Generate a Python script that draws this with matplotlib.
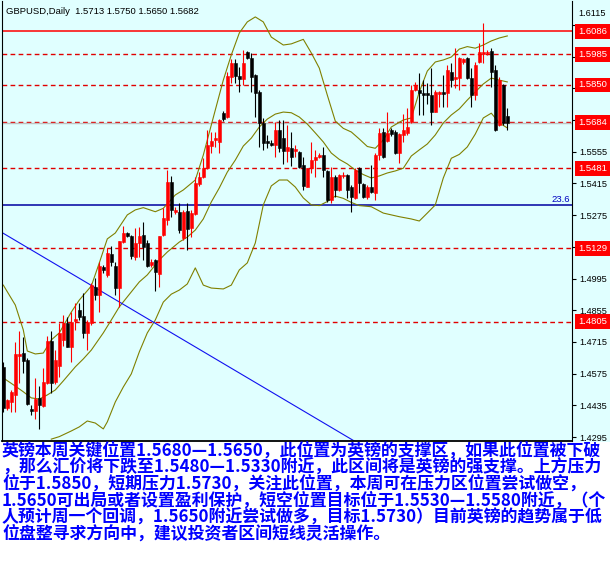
import matplotlib
matplotlib.use("Agg")
import matplotlib.pyplot as plt
import matplotlib.transforms as mtransforms
from matplotlib.patches import Rectangle
import numpy as np

# GBPUSD daily candles, oldest first
opens = [1.4606, 1.4422, 1.4451, 1.4481, 1.4655, 1.4668, 1.4635, 1.4419, 1.4412, 1.4467,
         1.4434, 1.4535, 1.4721, 1.4538, 1.4609, 1.4724, 1.4797, 1.4694, 1.4808, 1.4856,
         1.4830, 1.4753, 1.4797, 1.4956, 1.4922, 1.5047, 1.5011, 1.5103, 1.5052, 1.4952,
         1.5158, 1.5195, 1.5183, 1.5091, 1.5153, 1.5187, 1.5153, 1.5055, 1.5077, 1.5015,
         1.5187, 1.5254, 1.5420, 1.5289, 1.5290, 1.5173, 1.5294, 1.5217, 1.5280, 1.5412,
         1.5445, 1.5482, 1.5580, 1.5607, 1.5599, 1.5727, 1.5710, 1.5886, 1.5948, 1.5889,
         1.5875, 1.5994, 1.5967, 1.5894, 1.5820, 1.5680, 1.5602, 1.5595, 1.5585, 1.5651,
         1.5614, 1.5559, 1.5570, 1.5559, 1.5555, 1.5496, 1.5400, 1.5482, 1.5518, 1.5532,
         1.5540, 1.5470, 1.5342, 1.5445, 1.5386, 1.5448, 1.5452, 1.5399, 1.5349, 1.5482,
         1.5412, 1.5354, 1.5400, 1.5371, 1.5540, 1.5641, 1.5602, 1.5651, 1.5643, 1.5548,
         1.5629, 1.5636, 1.5687, 1.5827, 1.5827, 1.5813, 1.5813, 1.5805, 1.5732, 1.5810,
         1.5817, 1.5813, 1.5908, 1.5876, 1.5879, 1.5950, 1.5967, 1.5879, 1.5805, 1.5950,
         1.5986, 1.5989, 1.5999, 1.5915, 1.5673, 1.5849, 1.5713]
highs = [1.4627, 1.4465, 1.4503, 1.4716, 1.4763, 1.4738, 1.4644, 1.4437, 1.4555, 1.4521,
         1.4599, 1.4742, 1.4763, 1.4679, 1.4797, 1.4834, 1.4826, 1.4848, 1.4887, 1.4886,
         1.4930, 1.4812, 1.4975, 1.4996, 1.5069, 1.5055, 1.5128, 1.5139, 1.5068, 1.5161,
         1.5227, 1.5200, 1.5187, 1.5218, 1.5224, 1.5246, 1.5165, 1.5081, 1.5081, 1.5183,
         1.5307, 1.5474, 1.5449, 1.5311, 1.5330, 1.5298, 1.5330, 1.5298, 1.5445, 1.5467,
         1.5526, 1.5651, 1.5643, 1.5643, 1.5699, 1.5735, 1.5908, 1.5963, 1.5963, 1.5930,
         1.6004, 1.5999, 1.5989, 1.5898, 1.5827, 1.5702, 1.5629, 1.5607, 1.5687, 1.5695,
         1.5695, 1.5673, 1.5643, 1.5585, 1.5560, 1.5533, 1.5483, 1.5599, 1.5563, 1.5549,
         1.5577, 1.5474, 1.5489, 1.5452, 1.5457, 1.5465, 1.5457, 1.5408, 1.5482, 1.5487,
         1.5417, 1.5408, 1.5496, 1.5549, 1.5658, 1.5658, 1.5732, 1.5660, 1.5651, 1.5638,
         1.5720, 1.5747, 1.5849, 1.5864, 1.5901, 1.5872, 1.5858, 1.5923, 1.5827, 1.5825,
         1.5894, 1.5938, 1.5948, 1.6014, 1.5974, 1.5969, 1.5973, 1.5923, 1.5952, 1.6034,
         1.6121, 1.6004, 1.6011, 1.5938, 1.5883, 1.5854, 1.5750]
lows = [1.4406, 1.4415, 1.4407, 1.4407, 1.4534, 1.4577, 1.4437, 1.4393, 1.4375, 1.4332,
        1.4430, 1.4530, 1.4491, 1.4529, 1.4562, 1.4697, 1.4693, 1.4628, 1.4768, 1.4812,
        1.4731, 1.4679, 1.4790, 1.4900, 1.4849, 1.5018, 1.5002, 1.5051, 1.4922, 1.4871,
        1.5152, 1.5178, 1.5081, 1.5077, 1.5091, 1.5077, 1.5046, 1.5046, 1.4941, 1.4959,
        1.5183, 1.5231, 1.5268, 1.5280, 1.5195, 1.5165, 1.5121, 1.5180, 1.5276, 1.5404,
        1.5439, 1.5479, 1.5548, 1.5577, 1.5548, 1.5691, 1.5704, 1.5857, 1.5857, 1.5820,
        1.5849, 1.5964, 1.5820, 1.5710, 1.5577, 1.5563, 1.5570, 1.5580, 1.5533, 1.5555,
        1.5501, 1.5511, 1.5492, 1.5533, 1.5482, 1.5386, 1.5397, 1.5460, 1.5445, 1.5525,
        1.5445, 1.5334, 1.5327, 1.5356, 1.5381, 1.5439, 1.5351, 1.5290, 1.5346, 1.5371,
        1.5349, 1.5346, 1.5373, 1.5342, 1.5518, 1.5529, 1.5598, 1.5624, 1.5545, 1.5504,
        1.5599, 1.5629, 1.5682, 1.5823, 1.5717, 1.5717, 1.5766, 1.5673, 1.5730, 1.5754,
        1.5754, 1.5754, 1.5842, 1.5835, 1.5827, 1.5942, 1.5876, 1.5754, 1.5783, 1.5947,
        1.5945, 1.5982, 1.5842, 1.5646, 1.5668, 1.5673, 1.5650]
closes = [1.4422, 1.4459, 1.4495, 1.4662, 1.4662, 1.4632, 1.4441, 1.4410, 1.4462, 1.4437,
          1.4538, 1.4721, 1.4535, 1.4635, 1.4753, 1.4799, 1.4694, 1.4804, 1.4816, 1.4825,
          1.4753, 1.4804, 1.4967, 1.4922, 1.5052, 1.5033, 1.5106, 1.5068, 1.4952, 1.5161,
          1.5195, 1.5183, 1.5095, 1.5153, 1.5183, 1.5136, 1.5050, 1.5068, 1.5025, 1.5183,
          1.5262, 1.5423, 1.5298, 1.5298, 1.5209, 1.5290, 1.5213, 1.5286, 1.5415, 1.5445,
          1.5482, 1.5585, 1.5604, 1.5614, 1.5695, 1.5698, 1.5889, 1.5948, 1.5889, 1.5875,
          1.5948, 1.5967, 1.5886, 1.5813, 1.5680, 1.5595, 1.5593, 1.5585, 1.5651, 1.5570,
          1.5559, 1.5574, 1.5533, 1.5567, 1.5486, 1.5404, 1.5482, 1.5518, 1.5533, 1.5540,
          1.5474, 1.5342, 1.5445, 1.5386, 1.5452, 1.5454, 1.5386, 1.5354, 1.5474, 1.5415,
          1.5354, 1.5398, 1.5378, 1.5540, 1.5636, 1.5533, 1.5636, 1.5633, 1.5548, 1.5633,
          1.5651, 1.5665, 1.5827, 1.5849, 1.5813, 1.5805, 1.5805, 1.5732, 1.5817, 1.5820,
          1.5810, 1.5915, 1.5871, 1.5886, 1.5967, 1.5963, 1.5879, 1.5805, 1.5938, 1.5994,
          1.5993, 1.5997, 1.5908, 1.5651, 1.5871, 1.5680, 1.5682]

# Bollinger bands, sampled at candle positions
upper_idx = [0, 3, 5, 6, 8, 10, 12, 14, 17, 19, 22, 24, 26, 28, 31, 33, 35, 38, 40, 43,
             45, 48, 50, 52, 55, 57, 59, 61, 63, 65, 67, 70, 72, 75, 77, 79, 81, 83, 85, 87,
             89, 91, 93, 95, 97, 100, 102, 104, 106, 108, 110, 112, 114, 116, 118, 120, 122,
             124, 126]
upper_band = [1.4966, 1.4878, 1.4768, 1.4675, 1.4662, 1.4666, 1.4724, 1.4755, 1.4847, 1.4900,
              1.4962, 1.5064, 1.5170, 1.5196, 1.5276, 1.5298, 1.5308, 1.5290, 1.5305, 1.5364,
              1.5386, 1.5430, 1.5540, 1.5673, 1.5871, 1.5982, 1.6079, 1.6128, 1.6150, 1.6128,
              1.6061, 1.6026, 1.6031, 1.6051, 1.5991, 1.5924, 1.5805, 1.5690, 1.5658, 1.5642,
              1.5611, 1.5578, 1.5570, 1.5607, 1.5664, 1.5695, 1.5704, 1.5819, 1.5911, 1.5951,
              1.5960, 1.5973, 1.6008, 1.6019, 1.6012, 1.6026, 1.6044, 1.6057, 1.6066]
mid_idx = [0, 3, 5, 7, 9, 11, 13, 15, 18, 20, 22, 25, 27, 29, 31, 34, 36, 39, 41, 44,
           46, 48, 50, 52, 54, 56, 58, 60, 62, 64, 66, 68, 70, 72, 74, 76, 78, 80, 82, 84,
           86, 88, 90, 92, 94, 96, 98, 100, 102, 104, 106, 108, 110, 112, 114, 116, 118, 120,
           122, 124, 126]
mid_band = [1.4556, 1.4520, 1.4495, 1.4468, 1.4463, 1.4481, 1.4503, 1.4543, 1.4605, 1.4640,
            1.4679, 1.4755, 1.4812, 1.4870, 1.4914, 1.4980, 1.5011, 1.5077, 1.5112, 1.5156,
            1.5178, 1.5209, 1.5258, 1.5333, 1.5395, 1.5465, 1.5518, 1.5580, 1.5615, 1.5664,
            1.5699, 1.5721, 1.5730, 1.5727, 1.5708, 1.5677, 1.5638, 1.5598, 1.5549, 1.5521,
            1.5501, 1.5474, 1.5454, 1.5439, 1.5448, 1.5461, 1.5470, 1.5482, 1.5536, 1.5563,
            1.5589, 1.5629, 1.5682, 1.5717, 1.5744, 1.5783, 1.5819, 1.5854, 1.5880, 1.5871,
            1.5863]
lower_idx = [12, 14, 17, 19, 21, 23, 25, 26, 28, 30, 32, 34, 36, 38, 40, 42, 44, 46, 48, 50,
             52, 55, 57, 59, 61, 63, 65, 67, 69, 71, 73, 75, 77, 79, 81, 83, 85, 87, 89, 92,
             95, 99, 102, 104, 106, 108, 110, 112, 114, 116, 118, 120, 122, 124, 126]
lower_band = [1.4286, 1.4297, 1.4322, 1.4340, 1.4366, 1.4357, 1.4331, 1.4362, 1.4450, 1.4516,
              1.4574, 1.4671, 1.4755, 1.4812, 1.4891, 1.4926, 1.4944, 1.4971, 1.5042, 1.4966,
              1.4953, 1.4949, 1.4966, 1.5033, 1.5064, 1.5152, 1.5320, 1.5404, 1.5430, 1.5430,
              1.5399, 1.5351, 1.5320, 1.5317, 1.5335, 1.5359, 1.5349, 1.5331, 1.5317, 1.5312,
              1.5284, 1.5268, 1.5258, 1.5249, 1.5284, 1.5320, 1.5439, 1.5526, 1.5543, 1.5576,
              1.5633, 1.5704, 1.5725, 1.5682, 1.5660]

# horizontal levels drawn on the chart
solid_level = 1.6086
dashed_levels = [1.5985, 1.5850, 1.5684, 1.5481, 1.5129, 1.4805]
bid_price = 1.5682
fib_price = 1.5320
trend_idx = [-0.8, 88]
trend_val = [1.5203, 1.4275]

# price scale; the ones hidden behind the red boxes get no label
tick_values = [1.4295, 1.4435, 1.4575, 1.4715, 1.4855, 1.4995, 1.5135, 1.5275,
               1.5415, 1.5555, 1.5695, 1.5835, 1.5975, 1.6115]
tick_labels = ["1.4295", "1.4435", "1.4575", "1.4715", "1.4855", "1.4995", "",
               "1.5275", "1.5415", "1.5555", "", "", "", ""]
top_label = "1.6115"

title = "GBPUSD,Daily  1.5713 1.5750 1.5650 1.5682"
notes = [
    "英镑本周关键位置1.5680—1.5650，此位置为英镑的支撑区，如果此位置被下破",
    "，那么汇价将下跌至1.5480—1.5330附近，此区间将是英镑的强支撑。上方压力",
    "位于1.5850，短期压力1.5730，关注此位置，本周可在压力区位置尝试做空，",
    "1.5650可出局或者设置盈利保护，短空位置目标位于1.5530—1.5580附近，（个",
    "人预计周一个回调，1.5650附近尝试做多，目标1.5730）目前英镑的趋势属于低",
    "位盘整寻求方向中，建议投资者区间短线灵活操作。",
]

CYAN = "#E0FFFF"
RED = "#FF0000"

fig = plt.figure(figsize=(6.1, 5.76), dpi=100)
fig.patch.set_facecolor("white")
fig.patches.append(Rectangle((0, 134 / 576), 1, 1, transform=fig.transFigure,
                             facecolor=CYAN, edgecolor="none", zorder=-10))

ax = fig.add_axes([2 / 610, 135 / 576, 570 / 610, 440 / 576])
ax.set_facecolor(CYAN)
ax.set_xlim(-0.325, 142.175)
ax.set_ylim(1.42777, 1.62203)

# candles
o = np.array(opens)
h = np.array(highs)
l = np.array(lows)
c = np.array(closes)
x = np.arange(len(o))
cols = [RED if cc > oo else "black" for oo, cc in zip(o, c)]
ax.vlines(x, l, h, colors=cols, lw=0.8, zorder=3)
body_low = np.minimum(o, c)
body_h = np.maximum(np.abs(c - o), 0.00005)
ax.bar(x, body_h, bottom=body_low, width=0.7, color=cols, edgecolor=cols, lw=0.4, zorder=4)

# bands
for idx, vals in [(upper_idx, upper_band), (mid_idx, mid_band), (lower_idx, lower_band)]:
    ax.plot(idx, vals, color="#808000", lw=0.8, zorder=2)

# levels
ax.axhline(solid_level, color=RED, lw=1.1, zorder=1)
for lev in dashed_levels:
    ax.axhline(lev, color="#E00000", lw=1.0, dashes=(3.4, 2.4), zorder=1)
ax.axhline(bid_price, color="#C0C0C0", lw=1.0, zorder=1)
ax.axhline(fib_price, color="#0000A0", lw=1.1, zorder=1)
ax.plot(trend_idx, trend_val, color="#1010F0", lw=0.8, zorder=2)

trans = mtransforms.blended_transform_factory(ax.transAxes, ax.transData)
ax.text(0.996, fib_price + 0.0005, "23.6", transform=trans, ha="right", va="bottom",
        color="#0000C0", fontsize=6.8, family="Liberation Sans")

# axis
ax.set_xticks([])
ax.yaxis.tick_right()
ax.set_yticks(tick_values)
ax.set_yticklabels(tick_labels, family="Liberation Sans", fontsize=6.6)
ax.tick_params(axis="y", direction="out", length=3, width=0.8, pad=2)
ax.spines["top"].set_visible(False)
for side in ["left", "right"]:
    ax.spines[side].set_linewidth(0.8)
ax.spines["bottom"].set_linewidth(1.3)
ax.text(1.0105, 1 - 12 / 440, top_label, transform=ax.transAxes, ha="left", va="center",
        fontsize=6.6, family="Liberation Sans", clip_on=False)

# price boxes on the right scale
for lev in [solid_level] + dashed_levels:
    ax.text(1.0105, lev, f"{lev:.4f}", transform=trans, ha="left", va="center",
            color="white", fontsize=6.8, family="Liberation Sans", clip_on=False, zorder=10,
            bbox=dict(boxstyle="square,pad=0.3", fc=RED, ec="none"))

fig.text(6 / 610, 1 - 11 / 576, title, fontsize=6.8, family="Liberation Sans", va="center")

for i, line in enumerate(notes):
    ypx = 450.5 + 16.7 * i
    fig.text(2 / 610, 1 - ypx / 576, line, color="#0000FF", fontsize=12.2, fontweight="bold",
             family=["Noto Sans CJK SC", "DejaVu Sans"], va="center", ha="left")

fig.savefig("out.png", dpi=100)
